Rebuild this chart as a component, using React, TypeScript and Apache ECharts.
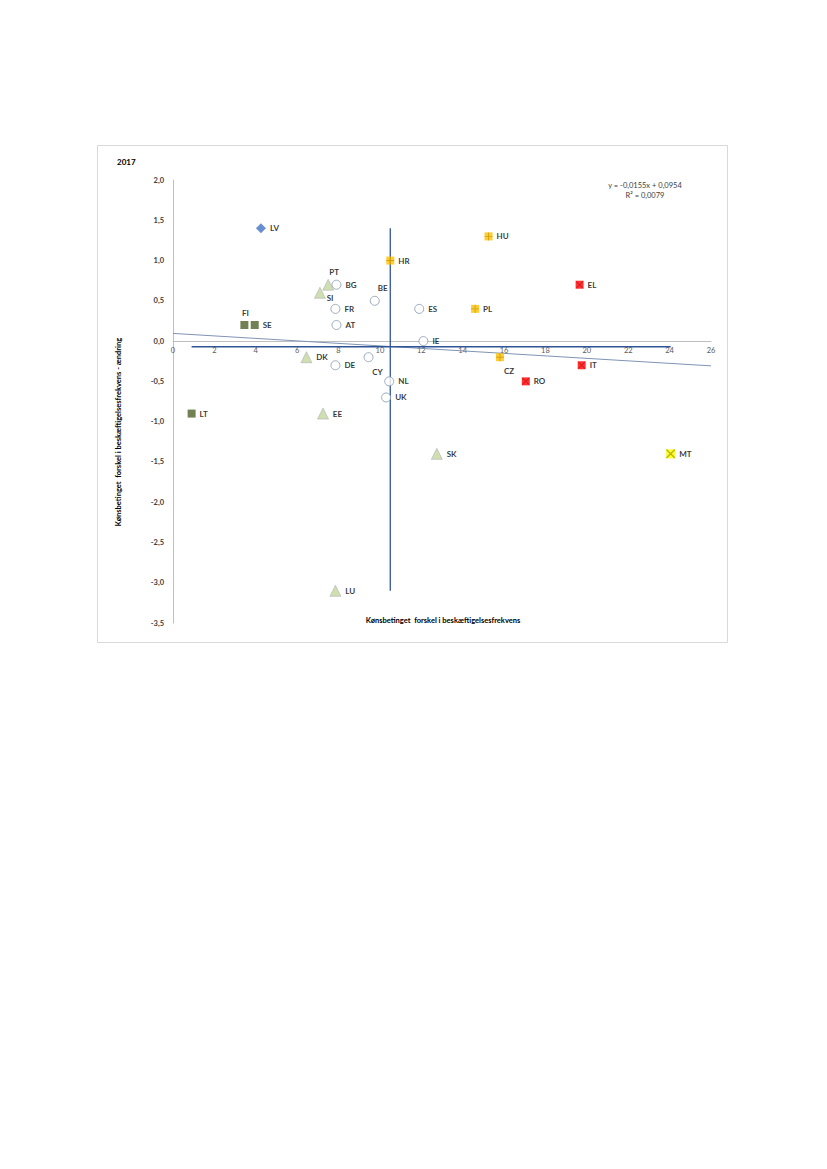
import React, { useEffect, useRef } from "react";
import * as echarts from "echarts";

const countries = ["LV", "HU", "HR", "PT", "BG", "SI", "BE", "ES", "PL", "EL", "FI", "SE", "FR", "AT", "IE", "DK", "DE", "CY", "NL", "UK", "LT", "EE", "CZ", "IT", "RO", "SK", "MT", "LU"];
const xValues = [4.25, 15.25, 10.5, 7.5, 7.9, 7.1, 9.75, 11.9, 14.6, 19.65, 3.45, 3.95, 7.85, 7.9, 12.1, 6.45, 7.85, 9.45, 10.45, 10.3, 0.9, 7.25, 15.8, 19.75, 17.05, 12.75, 24.05, 7.85];
const yValues = [1.4, 1.3, 1.0, 0.7, 0.7, 0.6, 0.5, 0.4, 0.4, 0.7, 0.2, 0.2, 0.4, 0.2, 0.0, -0.2, -0.3, -0.2, -0.5, -0.7, -0.9, -0.9, -0.2, -0.3, -0.5, -1.4, -1.4, -3.1];
const groups = ["diamond", "orange", "orange", "tri", "circle", "tri", "circle", "circle", "orange", "red", "green", "green", "circle", "circle", "circle", "tri", "circle", "circle", "circle", "circle", "green", "tri", "orange", "red", "red", "tri", "yellow", "tri"];

const trendSlope = -0.0155;
const trendIntercept = 0.0954;
const meanX = 10.5;
const meanY = -0.07;
const xTicks = { min: 0, max: 26, interval: 2 };
const yTicks = { min: -3.5, max: 2, interval: 0.5 };

const labelPos: Record<string, { position: string; offset: number[] }> = {
  PT: { position: "top", offset: [6, 1] },
  SI: { position: "right", offset: [-3, 5] },
  BE: { position: "top", offset: [8, 0] },
  FI: { position: "top", offset: [1, 0] },
  CY: { position: "bottom", offset: [9, 2] },
  CZ: { position: "bottom", offset: [9, 2] },
};

const FONT = "Lato, 'Open Sans', sans-serif";

function groupData(g: string) {
  const out: any[] = [];
  countries.forEach((c, i) => {
    if (groups[i] !== g) return;
    const lp = labelPos[c];
    const item: any = { name: c, value: [xValues[i], yValues[i]] };
    if (lp) item.label = { position: lp.position, offset: lp.offset };
    out.push(item);
  });
  return out;
}

const baseLabel = {
  show: true,
  position: "right",
  formatter: (p: any) => p.name,
  fontFamily: FONT,
  fontWeight: "bold",
  fontSize: 8,
  color: "#000",
  distance: 4,
};

export default function App() {
  const ref = useRef<HTMLDivElement>(null);
  useEffect(() => {
    if (!ref.current) return;
    const chart = echarts.init(ref.current, undefined, { renderer: "svg" });
    const trendData = [
      [xTicks.min, trendIntercept + trendSlope * xTicks.min],
      [xTicks.max, trendIntercept + trendSlope * xTicks.max],
    ];
    const minX = Math.min(...xValues);
    const maxX = Math.max(...xValues);
    const minY = Math.min(...yValues);
    const maxY = Math.max(...yValues);

    const scatter = (g: string, symbol: string, size: number, itemStyle: any, withLabel = true, z = 5) => ({
      type: "scatter",
      data: groupData(g),
      symbol,
      symbolSize: size,
      itemStyle,
      label: withLabel ? baseLabel : { show: false },
      z,
      silent: true,
    });

    chart.setOption({
      animation: false,
      grid: { left: 173, right: 116, top: 180, bottom: 546, containLabel: false },
      xAxis: {
        type: "value",
        position: "bottom",
        offset: -282,
        min: xTicks.min,
        max: xTicks.max,
        interval: xTicks.interval,
        axisLine: { show: true, onZero: false, lineStyle: { color: "#bfbfbf", width: 1 } },
        axisTick: { show: false },
        splitLine: { show: false },
        axisLabel: { fontFamily: FONT, fontSize: 7.5, color: "#595959", margin: 5 },
      },
      yAxis: {
        type: "value",
        min: yTicks.min,
        max: yTicks.max,
        interval: yTicks.interval,
        axisLine: { show: true, onZero: false, lineStyle: { color: "#bfbfbf", width: 1 } },
        axisTick: { show: false },
        splitLine: { show: false },
        axisLabel: {
          fontFamily: FONT,
          fontSize: 7.5,
          fontWeight: "bold",
          color: "#404040",
          margin: 9,
          formatter: (v: number) => v.toFixed(1).replace(".", ","),
        },
      },
      graphic: [
        { type: "rect", shape: { x: 97.5, y: 145.5, width: 630, height: 497 }, style: { fill: "none", stroke: "#d9d9d9", lineWidth: 1 }, z: -1 },
        { type: "text", x: 117, y: 162, style: { text: "2017", fontFamily: FONT, fontSize: 8, fontWeight: "bold", fill: "#000", textVerticalAlign: "middle" } },
        { type: "text", x: 645, y: 185, style: { text: "y = -0,0155x + 0,0954", fontFamily: FONT, fontSize: 7.5, fill: "#404040", textAlign: "center", textVerticalAlign: "middle" } },
        { type: "text", x: 645, y: 195, style: { text: "R² = 0,0079", fontFamily: FONT, fontSize: 7.5, fill: "#404040", textAlign: "center", textVerticalAlign: "middle" } },
        { type: "text", x: 443, y: 620, style: { text: "Kønsbetinget  forskel i beskæftigelsesfrekvens", fontFamily: FONT, fontSize: 7.5, fontWeight: "bold", fill: "#000", textAlign: "center", textVerticalAlign: "middle" } },
        { type: "text", x: 118, y: 432, rotation: Math.PI / 2, style: { text: "Kønsbetinget  forskel i beskæftigelsesfrekvens - ændring", fontFamily: FONT, fontSize: 7.5, fontWeight: "bold", fill: "#000", textAlign: "center", textVerticalAlign: "middle" } },
      ],
      series: [
        {
          type: "line",
          data: trendData,
          symbol: "none",
          lineStyle: { color: "#7f93b5", width: 1 },
          z: 2,
          silent: true,
        },
        {
          type: "line",
          data: [[meanX, minY], [meanX, maxY]],
          symbol: "none",
          lineStyle: { color: "#2f5597", width: 1.3 },
          z: 3,
          silent: true,
        },
        {
          type: "line",
          data: [[minX, meanY], [maxX, meanY]],
          symbol: "none",
          lineStyle: { color: "#2f5597", width: 1.3 },
          z: 3,
          silent: true,
        },
        scatter("circle", "circle", 9, { color: "#ffffff", borderColor: "#8497b0", borderWidth: 1 }),
        scatter("tri", "triangle", 11, { color: "#c4d79b", borderColor: "#a0a0b0", borderWidth: 0.6 }),
        scatter("green", "rect", 8, { color: "#4f6228" }),
        scatter("orange", "rect", 8, { color: "#ffc000" }),
        scatter("orange", "path://M4,0 L5,0 L5,9 L4,9 Z M0,4 L9,4 L9,5 L0,5 Z", 8, { color: "#bf9000", opacity: 0.7 }, false, 6),
        scatter("red", "rect", 8, { color: "#ff0000" }),
        scatter("red", "path://M0,0 L1,0 L9,8 L9,9 L8,9 L0,1 Z M8,0 L9,0 L9,1 L1,9 L0,9 L0,8 Z", 7, { color: "#c00000", opacity: 0.5 }, false, 6),
        scatter("yellow", "rect", 9, { color: "#ffff00" }),
        scatter("yellow", "path://M0,0 L1,0 L9,8 L9,9 L8,9 L0,1 Z M8,0 L9,0 L9,1 L1,9 L0,9 L0,8 Z", 9, { color: "#a6a600" }, false, 6),
        scatter("diamond", "diamond", 10, { color: "#4472c4" }),
      ],
    });
    return () => chart.dispose();
  }, []);
  return <div ref={ref} style={{ position: "absolute", left: 0, top: 0, width: 827, height: 1169 }} />;
}
